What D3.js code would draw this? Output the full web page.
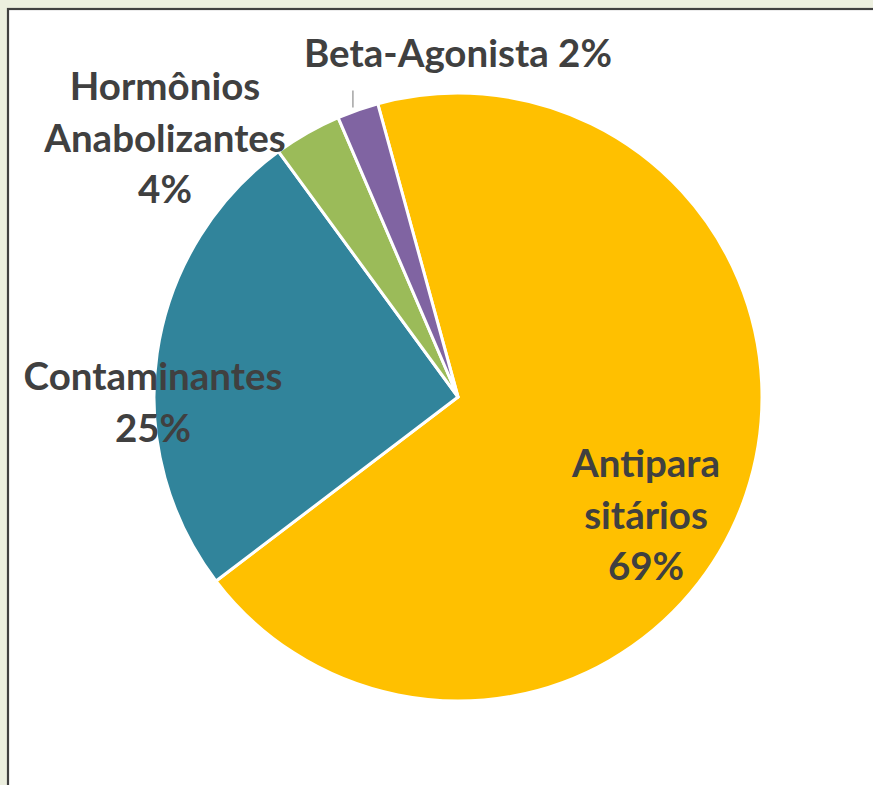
<!DOCTYPE html>
<html>
<head>
<meta charset="utf-8">
<script src="https://cdn.jsdelivr.net/npm/d3@7"></script>
<style>
  html, body { margin: 0; padding: 0; background: #ECEFDF; }
  svg { display: block; }
</style>
</head>
<body>
<svg id="chart" width="873" height="785"></svg>
<script>
// ---- data ----
const categories = ["Antiparasitários", "Contaminantes", "Hormônios Anabolizantes", "Beta-Agonista"];
const values = [68.9, 25.3, 3.6, 2.2];
const labelLines = [
  ["Antipara", "sitários"],
  ["Contaminantes"],
  ["Hormônios", "Anabolizantes"],
  ["Beta-Agonista"]
];
const colors = ["#FFC000", "#31849B", "#9BBB59", "#8064A2"];

// ---- layout ----
const W = 873, H = 785;
const cx = 458, cy = 397, R = 304;
const startDeg = -15.3;
const labelLayout = [
  { x: 646, y: 477, inline: false },
  { x: 153, y: 390, inline: false },
  { x: 165, y: 100, inline: false },
  { x: 458, y: 67, inline: true }
];
const lineH = 51.5;
const fontSize = 38.5;

const svg = d3.select("#chart");

svg.append("rect")
  .attr("x", 8).attr("y", 9)
  .attr("width", W + 10).attr("height", H + 10)
  .attr("fill", "#ffffff")
  .attr("stroke", "#404040")
  .attr("stroke-width", 2.2);

const total = d3.sum(values);
const data = categories.map((c, i) => ({ c, v: values[i], i }));

const pie = d3.pie().sort(null).value(d => d.v)
  .startAngle(startDeg * Math.PI / 180)
  .endAngle(startDeg * Math.PI / 180 + 2 * Math.PI);
const arcs = pie(data);
const arc = d3.arc().innerRadius(0).outerRadius(R);

const g = svg.append("g").attr("transform", `translate(${cx},${cy})`);
g.selectAll("path").data(arcs).enter().append("path")
  .attr("d", arc)
  .attr("fill", d => colors[d.data.i])
  .attr("stroke", "#ffffff")
  .attr("stroke-width", 3)
  .attr("stroke-linejoin", "round");

// leader line for Beta-Agonista
const beta = arcs[3];
const ba = (beta.startAngle + beta.endAngle) / 2 - 0.012;
const lx = Math.sin(ba) * (R + 4);
const ly = -Math.cos(ba) * (R + 4);
g.append("line")
  .attr("x1", lx).attr("y1", ly)
  .attr("x2", lx).attr("y2", ly - 17)
  .attr("stroke", "#8C8C8C").attr("stroke-width", 1.2);

const pct = d => Math.round(d / total * 100) + "%";
arcs.forEach((a, i) => {
  const L = labelLayout[i];
  const lines = labelLines[i].slice();
  if (L.inline) lines[lines.length - 1] += " " + pct(values[i]);
  else lines.push(pct(values[i]));
  const t = svg.append("text")
    .attr("text-anchor", "middle")
    .attr("font-family", "Lato, 'Open Sans', sans-serif")
    .attr("font-weight", "bold")
    .attr("font-size", fontSize)
    .attr("fill", "#404040");
  lines.forEach((ln, k) => {
    t.append("tspan").attr("x", L.x).attr("y", L.y + k * lineH).text(ln);
  });
});
</script>
</body>
</html>
